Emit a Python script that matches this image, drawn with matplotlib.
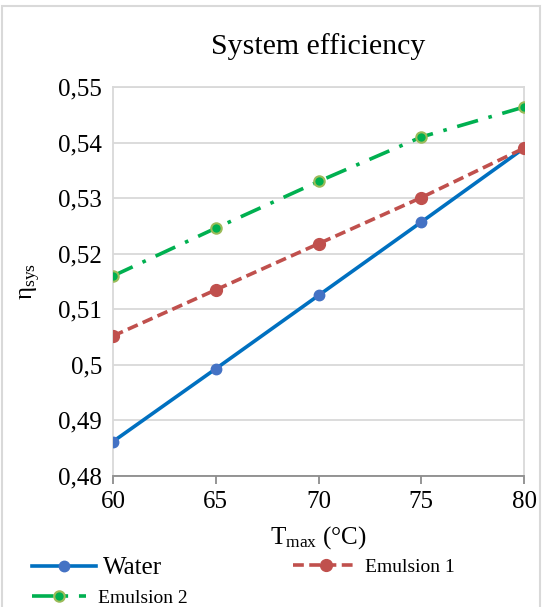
import matplotlib
matplotlib.use("Agg")
import matplotlib.pyplot as plt
from matplotlib.patches import Rectangle

plt.rcParams['font.family'] = ['Liberation Serif', 'DejaVu Serif']
plt.rcParams['mathtext.fontset'] = 'custom'
plt.rcParams['mathtext.rm'] = 'Liberation Serif'
plt.rcParams['mathtext.it'] = 'Liberation Serif'

tmax = [60, 65, 70, 75, 80]
water = [0.4862, 0.4993, 0.5125, 0.5257, 0.5390]
emulsion1 = [0.5052, 0.5135, 0.5218, 0.5301, 0.5390]
emulsion2 = [0.5160, 0.5246, 0.5330, 0.5410, 0.5464]
yticks = [0.48, 0.49, 0.50, 0.51, 0.52, 0.53, 0.54, 0.55]
ylabels = ['0,48', '0,49', '0,5', '0,51', '0,52', '0,53', '0,54', '0,55']

blue = '#0070c0'
red = '#c0504d'
green = '#00b050'

fig = plt.figure(figsize=(5.42, 6.07), dpi=100)
ax = fig.add_axes([0.2085, 0.2158, 0.7585, 0.6409])

ax.plot(tmax, water, color=blue, lw=2.6, marker='o', ms=7.5,
        mfc='#4472c4', mec='#4472c4', label='Water', zorder=3)
ax.plot(tmax, emulsion1, color=red, lw=2.6, ls=(0, (3, 1.5)), marker='o', ms=8.5,
        mfc=red, mec=red, label='Emulsion 1', zorder=3)
ax.plot(tmax, emulsion2, color=green, lw=2.6, ls=(0, (6, 3, 1, 3)), marker='o', ms=7.5,
        mfc='#00b050', mec='#9bbb59', mew=1.5, label='Emulsion 2', zorder=3)

ax.set_xlim(60, 80)
ax.set_ylim(0.48, 0.55)
ax.set_xticks(tmax)
ax.set_yticks(yticks)
ax.set_yticklabels(ylabels)
ax.yaxis.grid(True, color='#d9d9d9', lw=1.3)
ax.set_axisbelow(True)
for s in ['top', 'right', 'left']:
    ax.spines[s].set_color('#d9d9d9')
    ax.spines[s].set_linewidth(1.3)
ax.spines['bottom'].set_color('#8c8c8c')
ax.spines['bottom'].set_linewidth(1.3)
ax.tick_params(axis='x', length=6, width=1.3, color='#8c8c8c', labelsize=18, pad=5)
ax.tick_params(axis='y', length=0, labelsize=18, pad=8)

ax.set_title('System efficiency', fontsize=21.5, pad=24)
ax.set_xlabel(r'T$_{\mathrm{max}}$ (°C)', fontsize=18, labelpad=8)
ax.set_ylabel(r'η$_{\mathrm{sys}}$', fontsize=18, labelpad=11)

h = ax.get_legend_handles_labels()[0]
fig.legend([h[0]], ['Water'], loc='center left', bbox_to_anchor=(0.059, 0.064),
           frameon=False, fontsize=18, handlelength=2.56, handletextpad=0.28,
           borderaxespad=0, borderpad=0)
fig.legend([h[1]], ['Emulsion 1'], loc='center left', bbox_to_anchor=(0.541, 0.066),
           frameon=False, fontsize=14, handlelength=3.35, handletextpad=0.36,
           borderaxespad=0, borderpad=0)
fig.legend([h[2]], ['Emulsion 2'], loc='center left', bbox_to_anchor=(0.059, 0.015),
           frameon=False, fontsize=14, handlelength=2.8, handletextpad=0.57,
           borderaxespad=0, borderpad=0)

fig.patches.append(Rectangle((0.004, -0.01), 0.992, 1.0, transform=fig.transFigure,
                             fill=False, ec='#d9d9d9', lw=1.5))

fig.savefig('out.png', dpi=100)
